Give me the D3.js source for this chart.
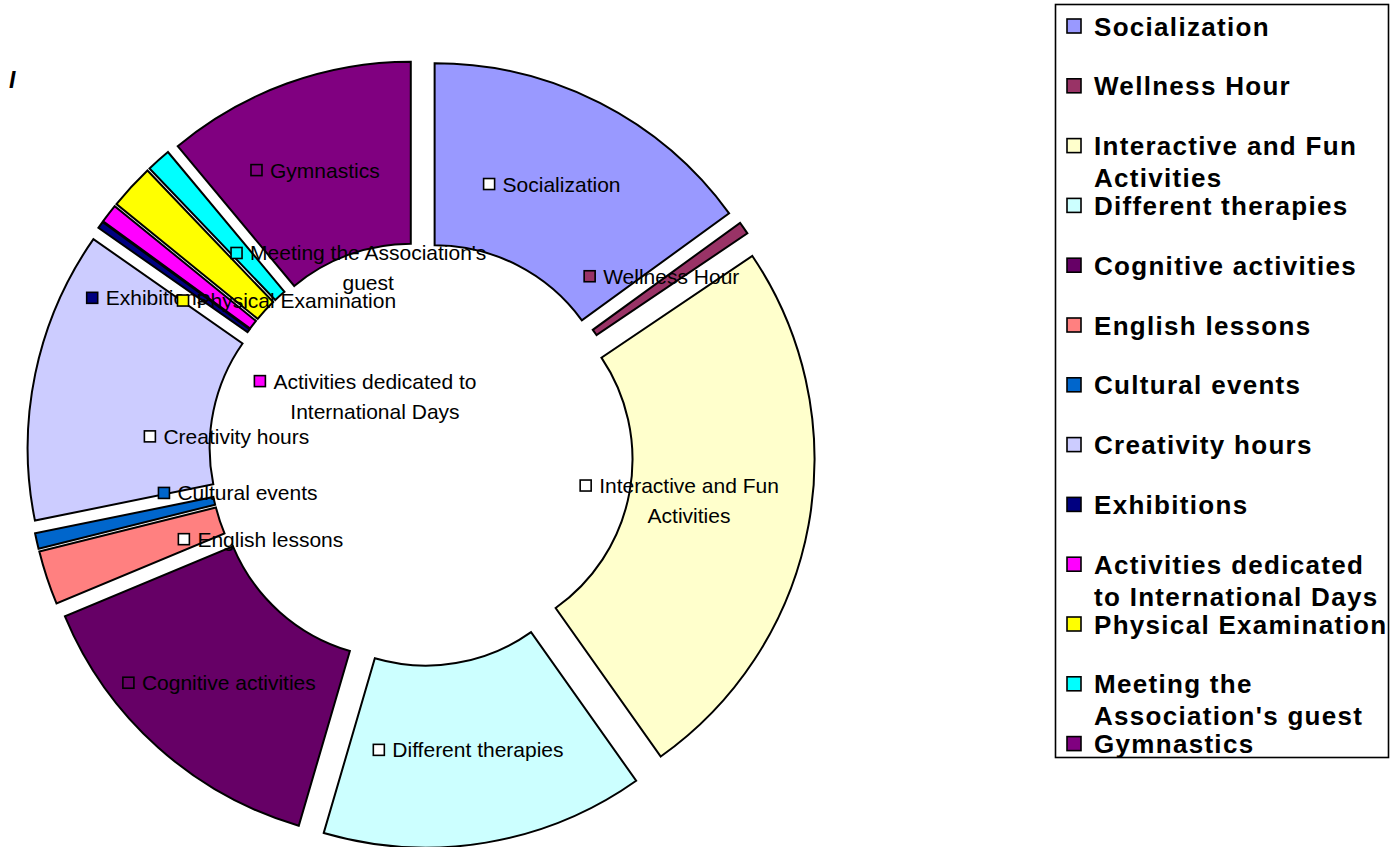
<!DOCTYPE html>
<html>
<head>
<meta charset="utf-8">
<script src="https://cdn.jsdelivr.net/npm/d3@7"></script>
<style>
  html, body { margin: 0; padding: 0; background: #fff; }
  svg { display: block; font-family: "Liberation Sans", Arial, sans-serif; }
</style>
</head>
<body>
<svg id="chart" width="1398" height="847"></svg>
<script>
// ---- data ----
const categories = [
  "Socialization", "Wellness Hour", "Interactive and Fun Activities", "Different therapies",
  "Cognitive activities", "English lessons", "Cultural events", "Creativity hours",
  "Exhibitions", "Activities dedicated to International Days", "Physical Examination",
  "Meeting the Association's guest", "Gymnastics"
];
const values = [15.0, 0.56, 24.64, 14.33, 14.19, 2.39, 0.69, 12.92, 0.31, 0.83, 2.0, 1.08, 11.06];
const colors = ["#9999FF", "#993366", "#FFFFCC", "#CCFFFF", "#660066", "#FF8080", "#0066CC",
                "#CCCCFF", "#000080", "#FF00FF", "#FFFF00", "#00FFFF", "#800080"];
// data label text lines (as wrapped in the original)
const labelLines = [
  ["Socialization"], ["Wellness Hour"], ["Interactive and Fun", "Activities"], ["Different therapies"],
  ["Cognitive activities"], ["English lessons"], ["Cultural events"], ["Creativity hours"],
  ["Exhibitions"], ["Activities dedicated to", "International Days"], ["Physical Examination"],
  ["Meeting the Association's", "guest"], ["Gymnastics"]
];
// legend text lines (as wrapped in the original)
const legendLines = [
  ["Socialization"], ["Wellness Hour"], ["Interactive and Fun", "Activities"], ["Different therapies"],
  ["Cognitive activities"], ["English lessons"], ["Cultural events"], ["Creativity hours"],
  ["Exhibitions"], ["Activities dedicated", "to International Days"], ["Physical Examination"],
  ["Meeting the", "Association's guest"], ["Gymnastics"]
];
// label key fill: white for some light slices in the original
const labelKeyFill = ["#FFFFFF", null, "#FFFFFF", "#FFFFFF", null, "#FFFFFF", null, "#FFFFFF", null, null, null, null, null];

// ---- layout ----
const cx = 421, cy = 454, R = 364, r = 182, explode = 30;
// label nudges (px) from the exploded slice centroid
const labelNudge = [[-7,0],[-8,-4],[-40,-8],[-3,-3],[0,3],[127,-10],[112,-28],[102,44],[-28,20],[184,127],[88,52],[139,40],[-3,1]];

const svg = d3.select("#chart");
svg.append("rect").attr("width", 1398).attr("height", 847).attr("fill", "#fff");

const data = categories.map((c, i) => ({ name: c, value: values[i], color: colors[i], i }));
const pie = d3.pie().sort(null).value(d => d.value).startAngle(0).endAngle(2 * Math.PI);
const arcs = pie(data);
const arc = d3.arc().innerRadius(r).outerRadius(R);

const g = svg.append("g").attr("transform", `translate(${cx},${cy})`);

function off(a) {
  const m = (a.startAngle + a.endAngle) / 2;
  return [explode * Math.sin(m), -explode * Math.cos(m)];
}

g.selectAll("path.slice").data(arcs).join("path")
  .attr("class", "slice")
  .attr("d", arc)
  .attr("transform", d => { const o = off(d); return `translate(${o[0]},${o[1]})`; })
  .attr("fill", d => d.data.color)
  .attr("stroke", "#000")
  .attr("stroke-width", 2)
  .attr("stroke-linejoin", "miter");

// ---- data labels ----
const fs = 21, lineH = 30, keyS = 12, keyGap = 8;
const lg = g.append("g");
arcs.forEach(a => {
  const i = a.data.i;
  const c = arc.centroid(a);
  const o = off(a);
  const ax = c[0] + o[0] + labelNudge[i][0];
  const ay = c[1] + o[1] + labelNudge[i][1];
  const lines = labelLines[i];
  const grp = lg.append("g");
  const texts = lines.map(t => grp.append("text")
    .attr("font-size", fs).attr("fill", "#000").text(t));
  const widths = texts.map(t => t.node().getComputedTextLength());
  const maxW = d3.max(widths);
  const bw = keyS + keyGap + maxW;
  const keyLeft = ax - bw / 2;
  const textC = keyLeft + keyS + keyGap + maxW / 2;
  const y0 = ay - (lines.length - 1) * lineH / 2;
  texts.forEach((t, k) => {
    t.attr("x", textC).attr("y", y0 + k * lineH + 7.5).attr("text-anchor", "middle");
  });
  grp.insert("rect", "text")
    .attr("x", keyLeft + 1).attr("y", y0 - keyS / 2 + 0.5)
    .attr("width", keyS - 1).attr("height", keyS - 1)
    .attr("fill", labelKeyFill[i] || a.data.color)
    .attr("stroke", "#000").attr("stroke-width", 1.6);
});

// ---- legend ----
const legX = 1055.5, legY = 4.5, legW = 333, legH = 753;
svg.append("rect").attr("x", legX).attr("y", legY).attr("width", legW).attr("height", legH)
  .attr("fill", "#fff").attr("stroke", "#000").attr("stroke-width", 1.6);
const legStep = 59.8, legFirst = 26;
const legend = svg.append("g");
data.forEach((d, i) => {
  const yc = legFirst + i * legStep;
  legend.append("rect").attr("x", 1067).attr("y", yc - 7).attr("width", 14).attr("height", 14)
    .attr("fill", d.color).attr("stroke", "#000").attr("stroke-width", 1.6);
  legendLines[i].forEach((t, k) => {
    legend.append("text").attr("x", 1094).attr("y", yc + 9.5 + k * 32)
      .attr("font-size", 26).attr("font-weight", "bold").attr("letter-spacing", 1.3)
      .attr("fill", "#000").text(t);
  });
});

// truncated title glyph at top left
svg.append("text").attr("x", 9).attr("y", 88).attr("font-size", 23)
  .attr("font-weight", "bold").attr("font-style", "italic").text("I");
</script>
</body>
</html>
